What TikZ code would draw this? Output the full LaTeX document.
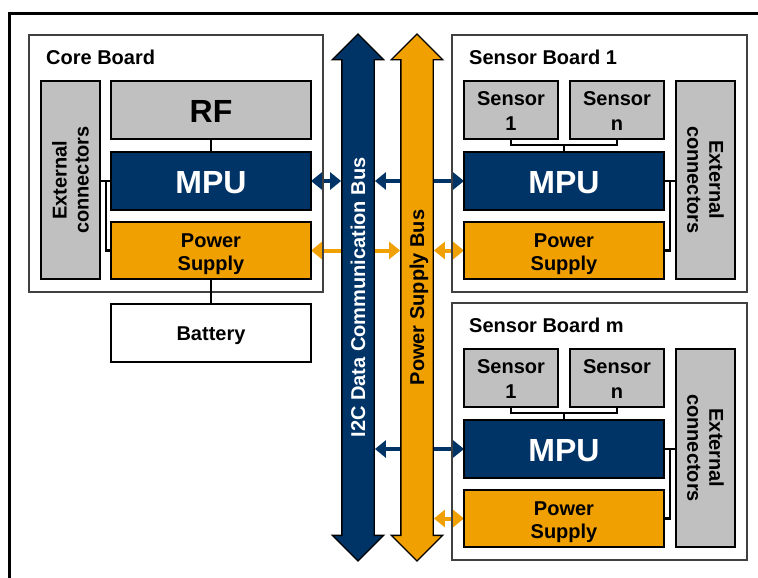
\documentclass[tikz,border=0pt]{standalone}
\usepackage{fontspec}
\setmainfont{Liberation Sans}
\usetikzlibrary{positioning, arrows.meta, shapes.arrows, backgrounds}
\definecolor{mpublue}{RGB}{0,51,102}
\definecolor{busorange}{RGB}{240,160,0}
\definecolor{partgray}{RGB}{192,192,192}
\newcommand{\linestrut}{\rule{0pt}{1.04em}}

\begin{document}
\begin{tikzpicture}[x=1pt,y=-1pt,
	board/.style={draw=black!75,line width=1.3pt,anchor=north west,inner sep=0pt,outer sep=0pt},
	title/.style={inner sep=0pt,font=\bfseries\fontsize{20}{23}\selectfont},
	part/.style={draw,line width=1.6pt,inner sep=0pt,outer sep=0pt,align=center,minimum height=58pt,
		font=\bfseries\fontsize{20}{23}\selectfont,
		execute at begin node={\rule{0pt}{1em}},execute at end node={\rule[-0.2em]{0pt}{0.2em}}},
	wide/.style={part,minimum width=200pt},
	rf/.style={wide,fill=partgray,font=\bfseries\fontsize{32}{36}\selectfont},
	mpu/.style={wide,fill=mpublue,text=white,font=\bfseries\fontsize{32}{36}\selectfont},
	supply/.style={wide,fill=busorange,minimum height=57pt},
	sensor/.style={part,fill=partgray,minimum width=94pt,font=\bfseries\fontsize{20}{25}\selectfont},
	extc/.style={part,fill=partgray,minimum width=59pt,minimum height=198pt,
		label={[rotate=#1,align=center,inner sep=0pt,font=\bfseries\fontsize{20}{22}\selectfont]center:External\\connectors}},
	wire/.style={line width=2.6pt},
	datalink/.style={mpublue,line width=4pt,{Triangle[length=11pt,width=17pt]}-{Triangle[length=11pt,width=17pt]}},
	powerlink/.style={datalink,busorange},
	bus/.style={double arrow,double arrow head extend=9.5pt,minimum height=527pt,rotate=90,
		draw,line width=1.4pt,inner xsep=4pt,inner ysep=0pt,text height=22.6pt,text depth=8.4pt,
		font=\bfseries\fontsize{20}{23}\selectfont}]
	\useasboundingbox (0,0) rectangle (758,578);
	\draw[line width=3pt] (9.5,600) -- (9.5,13.5) -- (780,13.5);
	% core board
	\node[board,minimum width=294pt,minimum height=257pt] (core) at (29,35) {};
	\node[title,below right=29.5pt and 17pt of core.north west,anchor=base west] (coretitle) {Core Board};
	\node[extc=90,below right=46pt and 12pt of core.north west] (cext) {};
	\node[rf,right=11pt of cext.north east,anchor=north west] (crf) {RF};
	\node[mpu,below=13pt of crf] (cmpu) {MPU};
	\node[supply,below=12pt of cmpu] (cps) {\linestrut Power\\Supply};
	\node[wide,below=25pt of cps] (bat) {Battery};
	\draw[wire] (crf) -- (cmpu);
	\draw[wire] (cext.east |- cmpu.west) -- (cmpu.west);
	\draw[wire] ([xshift=6pt]cext.east |- cmpu.west) |- (cps.west);
	\draw[wire] (cps) -- (bat);
	% sensor boards
	\foreach \b/\y in {1/35,m/303}
	{\node[board,minimum width=295pt,minimum height=257pt] (board\b) at (452,\y) {};
		\node[title,below right=29.5pt and 17pt of board\b.north west,anchor=base west] (title\b) {Sensor Board \b};
		\node[sensor,below right=46pt and 12pt of board\b.north west] (sa\b) {\linestrut Sensor\\1};
		\node[sensor,right=12pt of sa\b] (sn\b) {\linestrut Sensor\\n};
		\node[mpu,below=13pt of sa\b.south west,anchor=north west] (mpu\b) {MPU};
		\node[supply,below=12pt of mpu\b] (ps\b) {\linestrut Power\\Supply};
		\node[extc=-90,right=12pt of sn\b.north east,anchor=north west] (ext\b) {};
		\draw[wire] (sa\b.south) -- ++(0pt,-6pt) coordinate (k\b) -| (sn\b.south);
		\draw[wire] (mpu\b.north) -- (mpu\b.north |- k\b);
		\draw[wire] (mpu\b.east) -- (mpu\b.east -| ext\b.west);
		\draw[wire] ([xshift=6pt]mpu\b.east) |- (ps\b.east);}
	% buses
	\node[bus,fill=mpublue,text=white] (i2c) at (358,297.5) {I2C Data Communication Bus};
	\node[bus,fill=busorange] (pbus) at (417,297.5) {Power Supply Bus};
	\begin{scope}[on background layer]
		\draw[datalink] (cmpu.east) -- (cmpu.east -| i2c.north);
		\draw[powerlink] (cps.east) -- (cps.east -| pbus.north);
		\foreach \b in {1,m}
		{\draw[datalink] (mpu\b.west -| i2c.south) -- (mpu\b.west);
			\draw[powerlink] (ps\b.west -| pbus.south) -- (ps\b.west);}
	\end{scope}
\end{tikzpicture}
\end{document}
